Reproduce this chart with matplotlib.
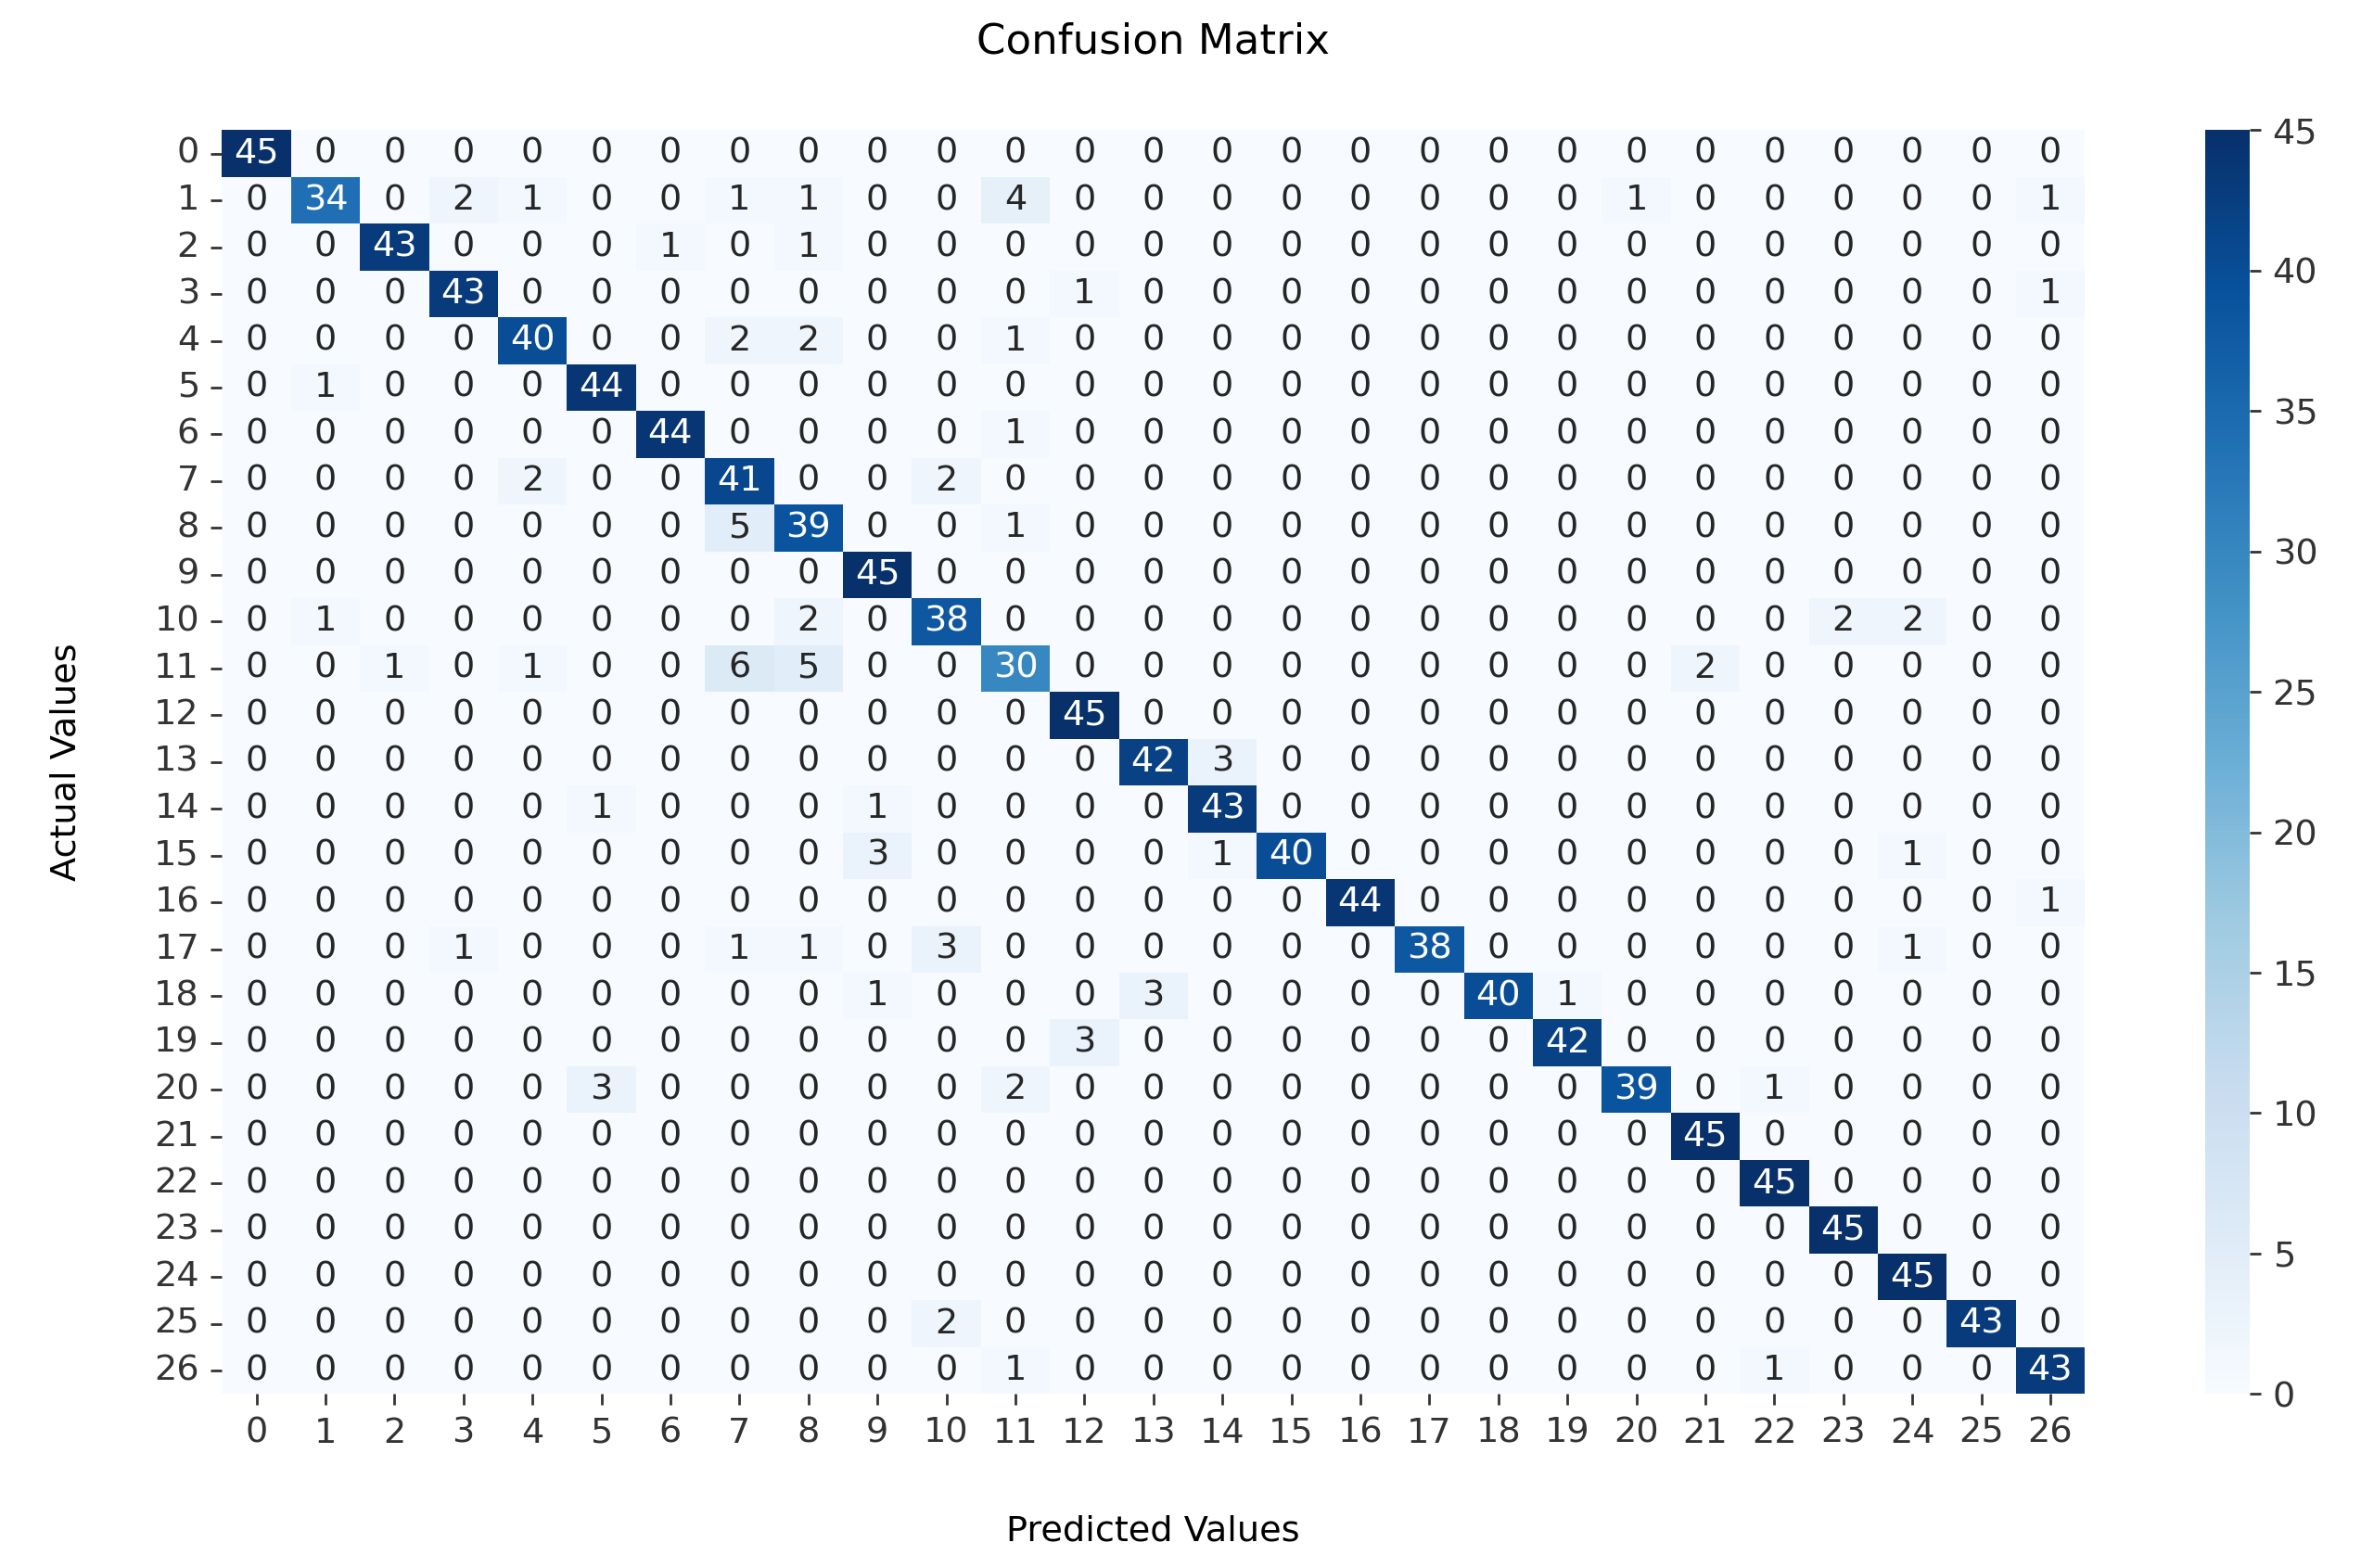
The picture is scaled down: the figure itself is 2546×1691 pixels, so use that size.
import numpy as np
import matplotlib
matplotlib.use('Agg')
import matplotlib.pyplot as plt
import seaborn as sns

labels = list(range(27))
diagonal = [45, 34, 43, 43, 40, 44, 44, 41, 39, 45, 38, 30, 45, 42, 43, 40, 44, 38, 40, 42, 39, 45, 45, 45, 45, 43, 43]
# (actual, predicted, count) off-diagonal errors
errors = [
    (1, 3, 2), (1, 4, 1), (1, 7, 1), (1, 8, 1), (1, 11, 4), (1, 20, 1), (1, 26, 1),
    (2, 6, 1), (2, 8, 1),
    (3, 12, 1), (3, 26, 1),
    (4, 7, 2), (4, 8, 2), (4, 11, 1),
    (5, 1, 1),
    (6, 11, 1),
    (7, 4, 2), (7, 10, 2),
    (8, 7, 5), (8, 11, 1),
    (10, 1, 1), (10, 8, 2), (10, 23, 2), (10, 24, 2),
    (11, 2, 1), (11, 4, 1), (11, 7, 6), (11, 8, 5), (11, 21, 2),
    (13, 14, 3),
    (14, 5, 1), (14, 9, 1),
    (15, 9, 3), (15, 14, 1), (15, 24, 1),
    (16, 26, 1),
    (17, 3, 1), (17, 7, 1), (17, 8, 1), (17, 10, 3), (17, 24, 1),
    (18, 9, 1), (18, 13, 3), (18, 19, 1),
    (19, 12, 3),
    (20, 5, 3), (20, 11, 2), (20, 22, 1),
    (25, 10, 2),
    (26, 11, 1), (26, 22, 1),
]

cm = np.diag(diagonal)
for r, c, v in errors:
    cm[r, c] = v

fig = plt.figure(figsize=(10.184, 6.764), dpi=250)
ax = fig.add_axes([0.094, 0.111, 0.789, 0.806])
cax = fig.add_axes([0.934, 0.111, 0.019, 0.806])
sns.heatmap(cm, annot=True, fmt='d', cmap='Blues', ax=ax, cbar_ax=cax,
            xticklabels=labels, yticklabels=labels, annot_kws={'size': 11})
ax.set_title('Confusion Matrix', fontsize=13, pad=24)
ax.set_xlabel('Predicted Values', fontsize=11, labelpad=20)
ax.set_ylabel('Actual Values', fontsize=11, labelpad=22)
ax.tick_params(labelsize=11, colors='#333333')
ax.set_yticklabels(labels, rotation=0)
ax.set_xticklabels(labels, rotation=0)
cax.tick_params(labelsize=11, colors='#333333')
fig.savefig('out.png')
